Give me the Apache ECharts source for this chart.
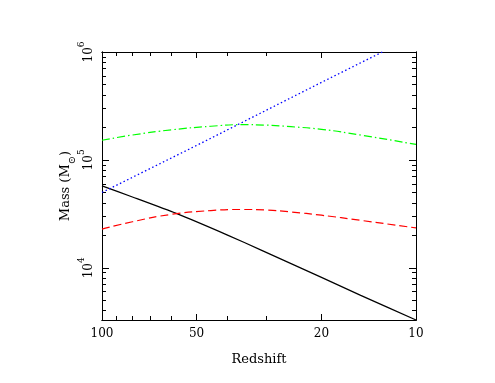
<!DOCTYPE html>
<html>
<head>
<meta charset="utf-8">
<script src="https://cdn.jsdelivr.net/npm/echarts@6/dist/echarts.min.js"></script>
<style>html,body{margin:0;background:#fff}#c{width:495px;height:383px}</style>
</head>
<body>
<div id="c"></div>
<script>
// redshift / mass pairs
const Z_BLACK = [100, 80, 58, 40, 31, 20, 15, 10]
const M_BLACK = [57400, 45300, 31900, 20200, 14500, 8150, 5550, 3280]
const Z_RED = [100, 80, 60, 45, 36, 30, 25, 20, 15, 10]
const M_RED = [22800, 26700, 31300, 33900, 34700, 34300, 32900, 30700, 27500, 23400]
const Z_GREEN = [100, 80, 60, 45, 36, 30, 25, 20, 15, 10]
const M_GREEN = [152000, 170000, 190000, 205000, 212000, 210000, 203000, 192000, 170000, 139000]
const Z_BLUE = [100, 50, 20, 12.8]
const M_BLUE = [49900, 136000, 523000, 1000000]

const X_LABELS = [100, 50, 20, 10]
const X_TICKS = [10, 20, 30, 40, 50, 60, 70, 80, 90, 100]
const X_MAJOR = [10, 20, 50, 100]
const Y_LABELS = [1e4, 1e5, 1e6]
const Y_TICKS = [4000, 5000, 6000, 7000, 8000, 9000,
  10000, 20000, 30000, 40000, 50000, 60000, 70000, 80000, 90000,
  100000, 200000, 300000, 400000, 500000, 600000, 700000, 800000, 900000, 1000000]
const Y_MAJOR = [1e4, 1e5, 1e6]

const FONT = 'DejaVu Serif'
const INK = '#000'

function pairs(xs, ys) { return xs.map((x, i) => [x, ys[i]]) }

function xAx(position, ticks, len, extra) {
  return Object.assign({
    type: 'log', min: 10, max: 100, inverse: true, position,
    axisLine: { show: true, lineStyle: { color: INK, width: 1 } },
    axisTick: { show: true, inside: true, length: len, customValues: ticks, lineStyle: { color: INK } },
    axisLabel: { show: false },
    splitLine: { show: false },
  }, extra || {})
}
function yAx(position, ticks, len, extra) {
  return Object.assign({
    type: 'log', min: 3280, max: 1e6, position,
    axisLine: { show: true, lineStyle: { color: INK, width: 1 } },
    axisTick: { show: true, inside: true, length: len, customValues: ticks, lineStyle: { color: INK } },
    axisLabel: { show: false },
    splitLine: { show: false },
  }, extra || {})
}

const chart = echarts.init(document.getElementById('c'), null, { renderer: 'canvas' })
chart.setOption({
  animation: false,
  backgroundColor: '#fff',
  grid: { left: 102, right: 79, top: 52, bottom: 63 },
  xAxis: [
    xAx('bottom', X_TICKS, 4, {
      name: 'Redshift', nameLocation: 'middle', nameGap: 33, nameMoveOverlap: false,
      nameTextStyle: { fontFamily: FONT, fontSize: 13, color: INK },
      axisLabel: { show: true, customValues: X_LABELS, margin: 8, fontFamily: FONT, fontSize: 12, color: INK,
        formatter: v => String(Math.round(v)) },
    }),
    xAx('bottom', X_MAJOR, 6),
    xAx('top', X_TICKS, 4),
    xAx('top', X_MAJOR, 6),
  ],
  yAxis: [
    yAx('left', Y_TICKS, 4, {
      name: '{n|Mass (M}{s|⊙}{n|)}', nameLocation: 'middle', nameGap: 25, nameRotate: 90, nameMoveOverlap: false,
      nameTextStyle: { fontFamily: FONT, fontSize: 13, color: INK,
        rich: { n: { fontFamily: FONT, fontSize: 13, lineHeight: 18, verticalAlign: 'top' },
                s: { fontFamily: FONT, fontSize: 10, verticalAlign: 'bottom' } } },
      axisLabel: { show: true, customValues: Y_LABELS, rotate: 90, margin: 7, color: INK,
        formatter: v => '{b|10}{e|' + Math.round(Math.log10(v)) + '}',
        rich: { b: { fontFamily: FONT, fontSize: 12, lineHeight: 18, verticalAlign: 'bottom' },
                e: { fontFamily: FONT, fontSize: 9, verticalAlign: 'top' } } },
    }),
    yAx('left', Y_MAJOR, 7),
    yAx('right', Y_TICKS, 4),
    yAx('right', Y_MAJOR, 7),
  ],
  series: [
    { type: 'line', data: pairs(Z_BLACK, M_BLACK), symbol: 'none', smooth: 0.2,
      lineStyle: { color: '#000', width: 1.2 } },
    { type: 'line', data: pairs(Z_RED, M_RED), symbol: 'none', smooth: true,
      lineStyle: { color: '#ff0000', width: 1.2, type: [8, 4] } },
    { type: 'line', data: pairs(Z_GREEN, M_GREEN), symbol: 'none', smooth: true,
      lineStyle: { color: '#00ff00', width: 1.2, type: [8, 3, 1.5, 3] } },
    { type: 'line', data: pairs(Z_BLUE, M_BLUE), symbol: 'none',
      lineStyle: { color: '#0000ff', width: 1.3, type: [1.5, 2.5] } },
  ],
})
</script>
</body>
</html>
